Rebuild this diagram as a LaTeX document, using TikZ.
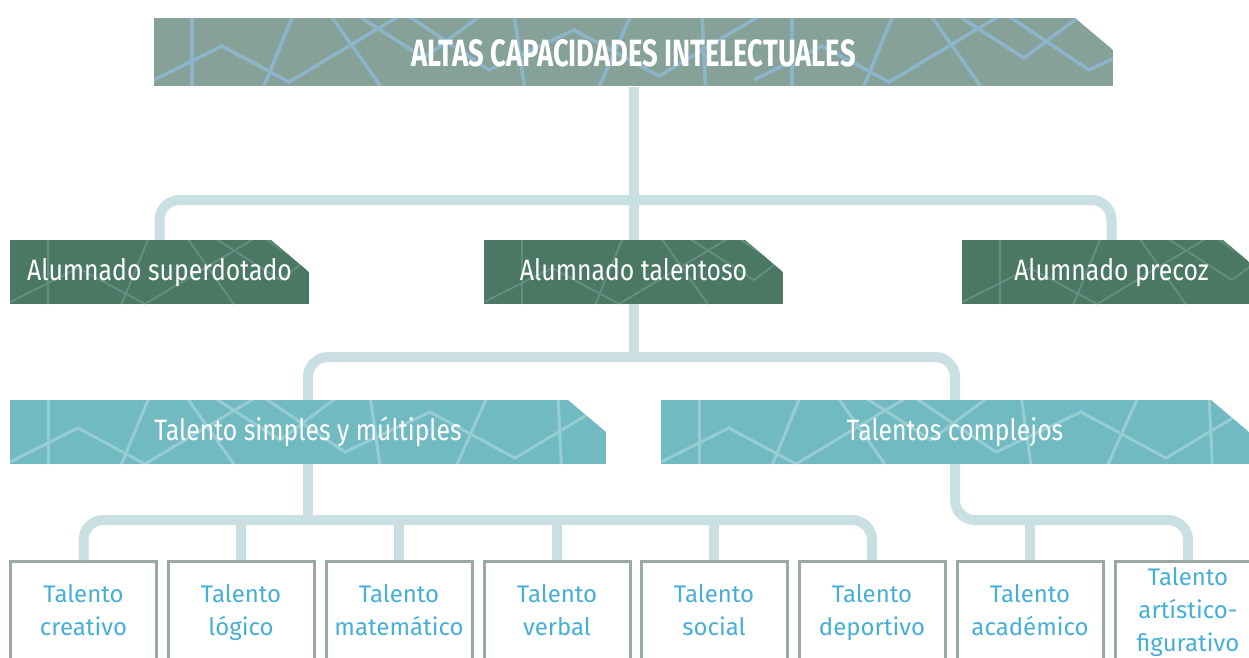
\documentclass[tikz,border=0pt]{standalone}
\usepackage{fontspec}
\setmainfont{Fira Sans}
\newfontfamily\titlefont[FakeStretch=0.72]{Fira Sans}
\newfontfamily\bandfont[FakeStretch=0.84]{Fira Sans}
\usepackage{xcolor}
\usetikzlibrary{positioning}

\definecolor{titlegreen}{HTML}{86A197}
\definecolor{titleline}{HTML}{8CB5CA}
\definecolor{darkgreen}{HTML}{4A7865}
\definecolor{darkline}{HTML}{638D7C}
\definecolor{tealband}{HTML}{72BAC1}
\definecolor{tealline}{HTML}{96CDD2}
\definecolor{linkblue}{HTML}{CADFE1}
\definecolor{framegray}{HTML}{98AAA3}
\definecolor{textblue}{HTML}{47AFD6}

\tikzset{
  link/.style={linkblue,line width=10pt},
  bandtext/.style={text=white,inner sep=0pt,minimum height=64pt,text height=21pt,text depth=5pt,
    font=\bandfont\fontsize{29.5}{32}\selectfont},
  talentbox/.style={draw=framegray,line width=3pt,minimum width=146pt,minimum height=104pt,
    inner sep=0pt,anchor=north,align=center,text depth=8pt,text=textblue,font=\fontsize{24}{33}\selectfont}
}

% lines of the background pattern, one tile 600 wide
\newcommand{\tilelines}{
  \draw[tile] (0,62) -- (68,28) -- (135,64) -- (250,-5);
  \draw[tile] (38,-5) -- (38,80);
  \draw[tile] (105,80) -- (140,-5);
  \draw[tile] (175,-5) -- (235,80);
  \draw[tile] (200,-5) -- (270,40) -- (330,-5);
  \draw[tile] (250,-5) -- (335,52) -- (420,12) -- (505,58) -- (610,-5);
  \draw[tile] (360,-5) -- (372,80);
  \draw[tile] (440,80) -- (478,-5);
  \draw[tile] (548,-5) -- (552,80);
}

% band with cut corner: x1,y1,x2,y2,fill,line style
\newcommand{\band}[6]{
  \begin{scope}
    \clip (#1,#2) -- (#3-38,#2) -- (#3,#2+32) -- (#3,#4) -- (#1,#4) -- cycle;
    \fill[#5] (#1,#2) rectangle (#3,#4);
    \foreach \o in {0,600,1200}{
      \begin{scope}[shift={(#1+\o,#2)},tile/.style={#6}]
        \tilelines
      \end{scope}}
  \end{scope}
}

\begin{document}
\begin{tikzpicture}[x=1pt,y=-1pt]
\useasboundingbox (0,0) rectangle (1249,657);
\clip (0,0) rectangle (1249,657);

\band{154}{18}{1113}{86}{titlegreen}{titleline,line width=3.5pt}
\node[text=white,inner sep=0pt,minimum height=68pt,font=\titlefont\bfseries\fontsize{38}{42}\selectfont]
  (altas) at (633.5,53) {ALTAS CAPACIDADES INTELECTUALES};

\band{10}{240}{309}{304}{darkgreen}{darkline,line width=2pt}
\band{484}{240}{783}{304}{darkgreen}{darkline,line width=2pt}
\band{962}{240}{1261}{304}{darkgreen}{darkline,line width=2pt}
\node[bandtext] (superdotado) at (159.5,272) {Alumnado superdotado};
\node[bandtext] (talentoso) at (633.5,272) {Alumnado talentoso};
\node[bandtext] (precoz) at (1111.5,272) {Alumnado precoz};

\band{10}{400}{606}{464}{tealband}{tealline,line width=3pt}
\band{661}{400}{1249}{464}{tealband}{tealline,line width=3pt}
\node[bandtext] (simples) at (308,432) {Talento simples y múltiples};
\node[bandtext] (complejos) at (955,432) {Talentos complejos};

\node[talentbox] (creativo) at (83.5,560) {Talento\\creativo};
\node[talentbox] (logico) at (241,560) {Talento\\lógico};
\node[talentbox] (matematico) at (399,560) {Talento\\matemático};
\node[talentbox] (verbal) at (557,560) {Talento\\verbal};
\node[talentbox] (social) at (714,560) {Talento\\social};
\node[talentbox] (deportivo) at (872,560) {Talento\\deportivo};
\node[talentbox] (academico) at (1030,560) {Talento\\académico};
\node[talentbox] (artistico) at (1188,560) {Talento\\artístico-\\figurativo};

\coordinate (bar1) at (0,200);
\coordinate (bar2) at (0,357);
\coordinate (bar3) at (0,520);

\draw[link] (altas.south) -- (talentoso.north);
\draw[link,rounded corners=20pt] (superdotado.north) -- (superdotado.north |- bar1)
  -- (precoz.north |- bar1) -- (precoz.north);

\draw[link] (talentoso.south) -- (talentoso.south |- bar2);
\draw[link,rounded corners=20pt] (simples.north) -- (simples.north |- bar2)
  -- (complejos.north |- bar2) -- (complejos.north);

\draw[link] (simples.south) -- (simples.south |- bar3);
\draw[link,rounded corners=20pt] (creativo.north) -- (creativo.north |- bar3)
  -- (deportivo.north |- bar3) -- (deportivo.north);
\foreach \n in {logico,matematico,verbal,social}
  \draw[link] (\n.north) -- (\n.north |- bar3);

\draw[link,rounded corners=20pt] (complejos.south) -- (complejos.south |- bar3)
  -- (artistico.north |- bar3) -- (artistico.north);
\draw[link] (academico.north) -- (academico.north |- bar3);
\end{tikzpicture}
\end{document}
